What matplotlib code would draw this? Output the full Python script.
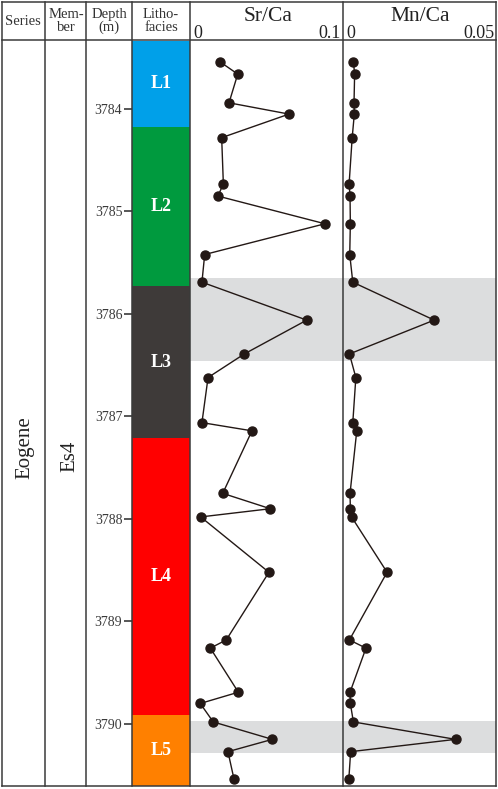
import matplotlib.pyplot as plt
from matplotlib.lines import Line2D

plt.rcParams['font.family'] = ['Liberation Serif', 'DejaVu Serif']

# ---- data ----
depth = [3783.54, 3783.66, 3783.94, 3784.05, 3784.28, 3784.73, 3784.85, 3785.12,
         3785.42, 3785.69, 3786.06, 3786.39, 3786.62, 3787.06, 3787.14, 3787.75,
         3787.90, 3787.98, 3788.52, 3789.18, 3789.26, 3789.69, 3789.80, 3789.98,
         3790.15, 3790.27, 3790.54]
sr_ca = [0.0196, 0.0312, 0.0255, 0.0647, 0.0207, 0.0218, 0.0183, 0.0882,
         0.0096, 0.0078, 0.0763, 0.0355, 0.0118, 0.0078, 0.0405, 0.0214,
         0.0525, 0.0070, 0.0516, 0.0237, 0.0133, 0.0316, 0.0067, 0.0152,
         0.0538, 0.0248, 0.0288]
mn_ca = [0.0034, 0.0038, 0.0036, 0.0037, 0.0030, 0.0020, 0.0023, 0.0024,
         0.0022, 0.0032, 0.0298, 0.0021, 0.0042, 0.0032, 0.0045, 0.0023,
         0.0024, 0.0028, 0.0144, 0.0021, 0.0075, 0.0023, 0.0024, 0.0034,
         0.0368, 0.0025, 0.0019]

facies = ['L1', 'L2', 'L3', 'L4', 'L5']
facies_top = [3783.33, 3784.18, 3785.73, 3787.21, 3789.91]
facies_bot = [3784.18, 3785.73, 3787.21, 3789.91, 3790.61]
facies_col = ['#00a0e9', '#009a3e', '#3e3a39', '#ff0000', '#ff8000']

bands = [(3785.65, 3786.46), (3789.97, 3790.28)]
depth_ticks = [3784, 3785, 3786, 3787, 3788, 3789, 3790]

d_top, d_bot = 3783.337, 3790.605

W, H = 498, 789
fig = plt.figure(figsize=(W / 100, H / 100), dpi=100)


def box(x0, y0, x1, y1):
    # pixel box -> figure rect
    return [x0 / W, 1 - y1 / H, (x1 - x0) / W, (y1 - y0) / H]


edge = '#3a3a3a'
y_head, y_body, y_end = 2, 41, 786
cols = [2, 45, 86, 132, 190, 343, 496]

# lithofacies column
ax_l = fig.add_axes(box(cols[3], y_body, cols[4], y_end))
for name, t, b, c in zip(facies, facies_top, facies_bot, facies_col):
    ax_l.axhspan(t, b, color=c, lw=0)
    ax_l.text(0.5, (t + b) / 2, name, color='white', fontsize=13,
              fontweight='bold', ha='center', va='center')
ax_l.set_xlim(0, 1)
ax_l.set_ylim(d_bot, d_top)
ax_l.set_xticks([])
ax_l.set_yticks(depth_ticks)
ax_l.tick_params(axis='y', direction='out', length=6, width=1.2, colors=edge,
                 labelsize=10, pad=1)
for s in ax_l.spines.values():
    s.set_visible(False)

# geochemistry columns
def geo_panel(x0, x1, values, xmax):
    ax = fig.add_axes(box(x0, y_body, x1, y_end))
    for t, b in bands:
        ax.axhspan(t, b, color='#dcddde', lw=0, zorder=0)
    ax.plot(values, depth, color='#231815', lw=1, marker='o',
            markersize=6.5, markerfacecolor='#231815', zorder=3)
    ax.set_xlim(0, xmax)
    ax.set_ylim(d_bot, d_top)
    ax.set_xticks([])
    ax.set_yticks([])
    for s in ax.spines.values():
        s.set_visible(False)
    return ax


geo_panel(cols[4], cols[5], sr_ca, 0.1)
geo_panel(cols[5], cols[6], mn_ca, 0.05)

# table grid overlay (pixel coordinates)
ov = fig.add_axes([0, 0, 1, 1], facecolor='none')
ov.set_xlim(0, W)
ov.set_ylim(H, 0)
ov.axis('off')
for x in cols:
    ov.add_line(Line2D([x, x], [y_head, y_end], color=edge, lw=1.1))
for y in (y_head, y_body - 1, y_end):
    ov.add_line(Line2D([cols[0], cols[-1]], [y, y], color=edge, lw=1.1))

# header text
hdr_kw = dict(ha='center', va='center', color='#333333', fontsize=10.5,
              linespacing=1.0)
ov.text(23, 21, 'Series', **hdr_kw)
ov.text(66, 21, 'Mem-\nber', **hdr_kw)
ov.text(109, 21, 'Depth\n(m)', **hdr_kw)
ov.text(161, 21, 'Litho-\nfacies', **hdr_kw)
ov.text(268, 16, 'Sr/Ca', ha='center', va='center', fontsize=15.5,
        color='#222222')
ov.text(420, 16, 'Mn/Ca', ha='center', va='center', fontsize=15.5,
        color='#222222')
ov.text(193, 33, '0', ha='left', va='center', fontsize=13, color='#222222')
ov.text(341, 33, '0.1', ha='right', va='center', fontsize=13,
        color='#222222')
ov.text(346, 33, '0', ha='left', va='center', fontsize=13, color='#222222')
ov.text(495, 33, '0.05', ha='right', va='center', fontsize=13,
        color='#222222')

# series / member labels
ov.text(25, 448, 'Eogene', rotation=90, ha='center', va='center',
        fontsize=15, color='#222222')
ov.text(70, 456, 'Es4', rotation=90, ha='center', va='center',
        fontsize=15, color='#222222')

fig.savefig('out.png', dpi=100)
